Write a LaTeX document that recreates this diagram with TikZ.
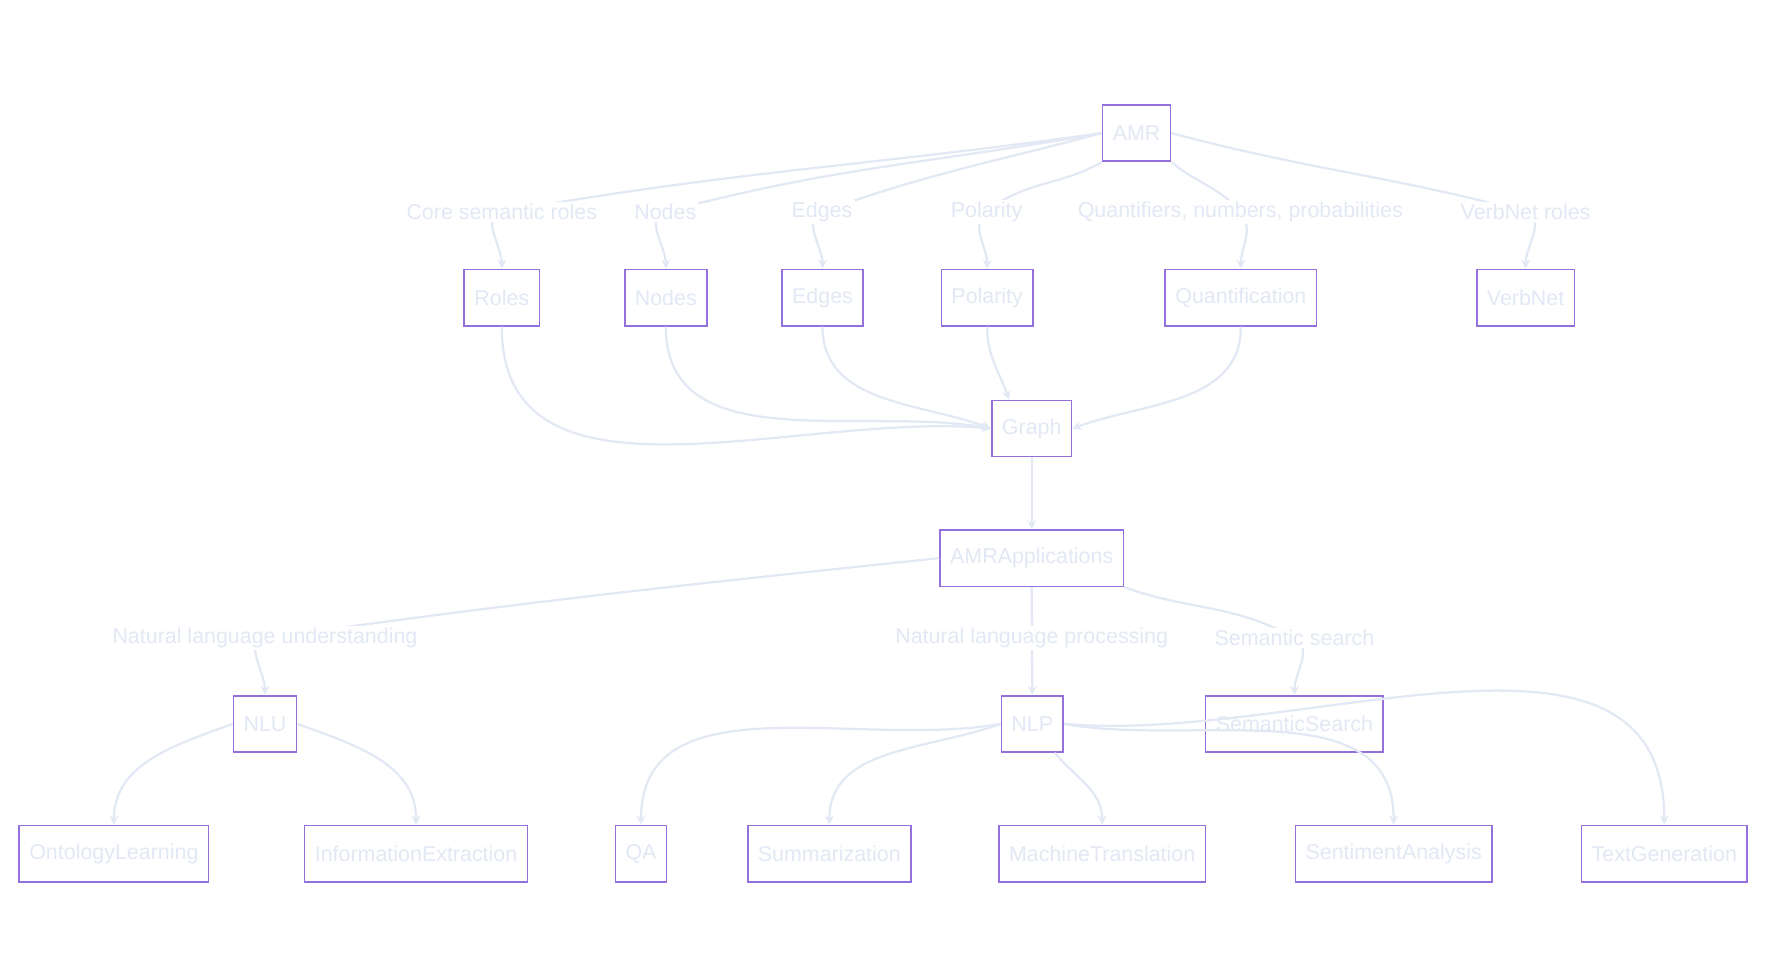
\documentclass[tikz,border=0pt]{standalone}
\usepackage{fontspec}
\setmainfont{Liberation Sans}
\usetikzlibrary{arrows.meta}
\definecolor{ln}{HTML}{E2E8F4}
\definecolor{bx}{HTML}{9370DB}
\begin{document}
\begin{tikzpicture}[x=0.5pt,y=-0.5pt,
  box/.style={draw=bx,line width=0.7pt,fill=white,text=ln,minimum height=25pt,inner xsep=4.5pt,font=\fontsize{9.5pt}{11pt}\selectfont},
  lbl/.style={fill=white,text=ln,inner sep=1pt,font=\fontsize{9.5pt}{11pt}\selectfont},
  ar/.style={draw=ln,line width=1pt,-{Stealth[length=4pt,width=4pt]}},
  pl/.style={draw=ln,line width=1pt}]
\useasboundingbox (0,0) rectangle (1568,858.5);
% nodes
\node[box] (AMR) at (1008,118) {AMR};
\node[box] (Roles) at (445,264) {Roles};
\node[box] (Nodes) at (590.5,264) {Nodes};
\node[box] (Edges) at (729.5,264) {Edges};
\node[box] (Polarity) at (875.5,264) {Polarity};
\node[box] (Quant) at (1100.5,264) {Quantification};
\node[box] (VerbNet) at (1353,264) {VerbNet};
\node[box] (Graph) at (915,380) {Graph};
\node[box] (App) at (915,495) {AMRApplications};
\node[box] (NLU) at (235,642) {NLU};
\node[box] (NLP) at (915.5,642) {NLP};
\node[box] (SS) at (1148,642) {SemanticSearch};
\node[box] (OL) at (101,757) {OntologyLearning};
\node[box] (IE) at (369,757) {InformationExtraction};
\node[box] (QA) at (568.5,757) {QA};
\node[box] (Sum) at (735.5,757) {Summarization};
\node[box] (MT) at (977.5,757) {MachineTranslation};
\node[box] (SA) at (1236,757) {SentimentAnalysis};
\node[box] (TG) at (1476,757) {TextGeneration};
% label coordinates
\coordinate (l1) at (445,188);
\coordinate (l2) at (590,188);
\coordinate (l3) at (729,188);
\coordinate (l4) at (875,188);
\coordinate (l5) at (1100,188);
\coordinate (l6) at (1353,188);
\coordinate (m1) at (235,566);
\coordinate (m2) at (915,566);
\coordinate (m3) at (1148,566);
% AMR edges
\draw[ar] (AMR.west) to[out=188,in=10] (l1) to[out=190,in=90] (Roles.north);
\draw[ar] (AMR.west) to[out=190,in=15] (l2) to[out=195,in=90] (Nodes.north);
\draw[ar] (AMR.west) to[out=195,in=20] (l3) to[out=200,in=90] (Edges.north);
\draw[ar] (AMR.south west) to[out=210,in=40] (l4) to[out=220,in=90] (Polarity.north);
\draw[ar] (AMR.south east) to[out=-40,in=130] (l5) to[out=-50,in=90] (Quant.north);
\draw[ar] (AMR.east) to[out=-15,in=165] (l6) to[out=-15,in=90] (VerbNet.north);
% to Graph
\draw[ar] (Roles.south) to[out=-90,in=175] (Graph.west);
\draw[ar] (Nodes.south) to[out=-90,in=170] (Graph.west);
\draw[ar] (Edges.south) to[out=-90,in=160] (Graph.west);
\draw[ar] (Polarity.south) to[out=-90,in=110] ([xshift=-10pt]Graph.north);
\draw[ar] (Quant.south) to[out=-90,in=20] (Graph.east);
\draw[ar] (Graph) -- (App);
% App edges
\draw[ar] (App.west) to[out=186,in=8] (m1) to[out=188,in=90] (NLU.north);
\draw[ar] (App.south) -- (NLP.north);
\draw[ar] (App.south east) to[out=-20,in=150] (m3) to[out=-30,in=90] (SS.north);
% NLU/NLP children
\draw[ar] (NLU.west) to[out=200,in=90] (OL.north);
\draw[ar] (NLU.east) to[out=-20,in=90] (IE.north);
\draw[ar] (NLP.west) to[out=190,in=90] (QA.north);
\draw[ar] (NLP.west) to[out=200,in=90] (Sum.north);
\draw[ar] ([xshift=10pt]NLP.south) to[out=-50,in=90] (MT.north);
\draw[ar] (NLP.east) to[out=-10,in=90] (SA.north);
\draw[ar] (NLP.east) to[out=-5,in=90] (TG.north);
% labels
\node[lbl] at (l1) {Core semantic roles};
\node[lbl] at (l2) {Nodes};
\node[lbl] at (l3) {Edges};
\node[lbl] at (l4) {Polarity};
\node[lbl] at (l5) {Quantifiers, numbers, probabilities};
\node[lbl] at (l6) {VerbNet roles};
\node[lbl] at (m1) {Natural language understanding};
\node[lbl] at (m2) {Natural language processing};
\node[lbl] at (m3) {Semantic search};
\end{tikzpicture}
\end{document}
